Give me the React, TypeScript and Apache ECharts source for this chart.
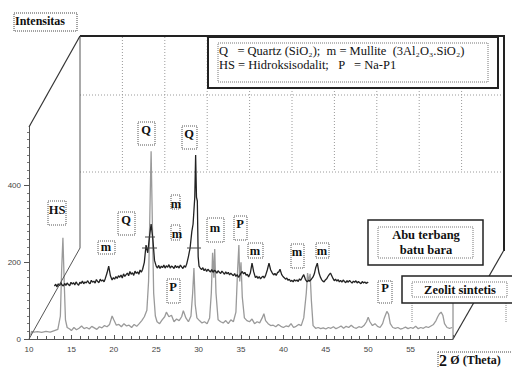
import React, { useEffect, useRef } from "react";
import * as echarts from "echarts";

// Zeolit sintetis (grey trace)
const zeolitTheta = [
  10.2, 10.3, 10.6, 11.0, 11.5, 12.0, 12.5, 13.0, 13.4, 13.7, 13.85, 14.0, 14.15, 14.3, 14.5, 14.8,
  15.0, 15.3, 15.6, 15.9, 16.2, 16.5, 16.8, 17.1, 17.4, 17.7, 18.0, 18.3, 18.6, 18.9, 19.2, 19.5,
  19.8, 20.0, 20.3, 20.6, 20.9, 21.2, 21.5, 21.8, 22.1, 22.4, 22.7, 23.0, 23.3, 23.6, 23.9, 24.1,
  24.3, 24.4, 24.55, 24.7, 24.9, 25.1, 25.4, 25.7, 26.0, 26.2, 26.5, 26.8, 27.1, 27.4, 27.7, 28.0,
  28.2, 28.5, 28.8, 29.1, 29.3, 29.45, 29.6, 29.8, 30.1, 30.4, 30.7, 31.0, 31.3, 31.5, 31.65, 31.8,
  31.9, 32.05, 32.3, 32.6, 32.9, 33.2, 33.5, 33.8, 34.1, 34.4, 34.6, 34.75, 34.85, 35.0, 35.15, 35.4,
  35.7, 36.0, 36.3, 36.6, 36.9, 37.2, 37.5, 37.7, 37.9, 38.2, 38.5, 38.8, 39.1, 39.4, 39.7, 40.0,
  40.3, 40.6, 40.9, 41.2, 41.5, 41.8, 42.1, 42.4, 42.7, 42.85, 43.0, 43.15, 43.3, 43.5, 43.8, 44.1,
  44.4, 44.7, 45.0, 45.3, 45.6, 45.9, 46.2, 46.5, 46.8, 47.1, 47.4, 47.7, 48.0, 48.3, 48.6, 48.9,
  49.2, 49.5, 49.8, 50.0, 50.2, 50.5, 50.8, 51.1, 51.4, 51.7, 51.9, 52.2, 52.4, 52.6, 52.9, 53.2,
  53.5, 53.8, 54.1, 54.4, 54.7, 55.0, 55.3, 55.6, 55.9, 56.2, 56.5, 56.8, 57.1, 57.4, 57.7, 58.0,
  58.2, 58.4, 58.6, 58.8, 59.0, 59.3, 59.6, 59.9,
];
const zeolitIntensity = [
  10, 20, 18, 19, 17, 20, 18, 22, 25, 60, 180, 264, 150, 50, 30, 26,
  22, 30, 24, 28, 34, 27, 30, 26, 33, 29, 25, 32, 29, 35, 32, 38,
  60, 50, 36, 38, 32, 40, 34, 36, 30, 38, 33, 40, 48, 58, 75, 150,
  380, 490, 300, 120, 60, 45, 40, 50, 58, 70, 58, 62, 45, 52, 48, 58,
  74, 55, 45, 60, 120, 185, 90, 55, 48, 42, 45, 40, 55, 120, 225, 160,
  235, 120, 50, 45, 42, 48, 40, 50, 45, 70, 180, 245, 150, 200, 110, 55,
  48, 45, 52, 40, 45, 42, 55, 66, 48, 40, 35, 36, 32, 38, 33, 30,
  34, 32, 40, 30, 33, 38, 35, 55, 120, 172, 150, 170, 100, 35, 28, 30,
  27, 29, 26, 30, 28, 32, 27, 30, 34, 28, 33, 30, 36, 30, 28, 32,
  30, 35, 45, 57, 45, 35, 40, 33, 30, 40, 55, 72, 65, 40, 30, 28,
  30, 26, 28, 31, 27, 30, 28, 33, 27, 30, 28, 32, 30, 34, 38, 48,
  58, 66, 70, 62, 40, 30, 28, 30,
];

// Abu terbang batu bara (dark trace)
const abuTheta = [
  13.0, 13.15, 13.3, 13.45, 13.6, 13.75, 13.9, 14.05, 14.2, 14.35, 14.5, 14.65, 14.8, 14.95, 15.1, 15.25,
  15.4, 15.55, 15.7, 15.85, 16.0, 16.15, 16.3, 16.45, 16.6, 16.75, 16.9, 17.05, 17.2, 17.35, 17.5, 17.65,
  17.8, 17.95, 18.1, 18.25, 18.4, 18.55, 18.7, 18.85, 19.0, 19.2, 19.4, 19.6, 19.8, 19.95, 20.1, 20.25,
  20.4, 20.55, 20.7, 20.85, 21.0, 21.15, 21.3, 21.45, 21.6, 21.75, 21.9, 22.05, 22.2, 22.35, 22.5, 22.65,
  22.8, 22.95, 23.1, 23.25, 23.4, 23.6, 23.8, 24.0, 24.2, 24.4, 24.6, 24.8, 25.0, 25.15, 25.3, 25.45,
  25.6, 25.75, 25.9, 26.05, 26.2, 26.35, 26.5, 26.65, 26.8, 26.95, 27.1, 27.25, 27.4, 27.55, 27.7, 27.85,
  28.0, 28.15, 28.3, 28.45, 28.6, 28.8, 29.0, 29.2, 29.35, 29.45, 29.55, 29.65, 29.75, 29.85, 29.95, 30.05,
  30.2, 30.35, 30.5, 30.65, 30.8, 30.95, 31.1, 31.25, 31.4, 31.55, 31.7, 31.85, 32.0, 32.15, 32.3, 32.45,
  32.6, 32.75, 32.9, 33.05, 33.2, 33.35, 33.5, 33.65, 33.8, 33.95, 34.1, 34.25, 34.4, 34.55, 34.7, 34.85,
  35.0, 35.15, 35.3, 35.45, 35.6, 35.75, 35.9, 36.1, 36.3, 36.5, 36.7, 36.85, 37.0, 37.15, 37.3, 37.45,
  37.6, 37.75, 37.9, 38.1, 38.3, 38.5, 38.7, 38.85, 39.0, 39.15, 39.3, 39.45, 39.6, 39.8, 39.95, 40.1,
  40.25, 40.4, 40.55, 40.7, 40.85, 41.0, 41.15, 41.3, 41.45, 41.6, 41.75, 41.9, 42.05, 42.2, 42.4, 42.6,
  42.8, 42.95, 43.1, 43.3, 43.5, 43.65, 43.8, 44.0, 44.2, 44.35, 44.5, 44.65, 44.8, 44.95, 45.1, 45.25,
  45.4, 45.55, 45.7, 45.85, 46.0, 46.15, 46.3, 46.45, 46.6, 46.75, 46.9, 47.05, 47.2, 47.35, 47.5, 47.65,
  47.8, 47.95, 48.1, 48.25, 48.4, 48.55, 48.7, 48.85, 49.0, 49.15, 49.3, 49.45, 49.6, 49.75, 49.9, 50.0,
];
const abuIntensity = [
  138, 143, 136, 144, 139, 147, 141, 138, 145, 140, 146, 142, 139, 148, 143, 147,
  141, 149, 144, 140, 148, 145, 151, 144, 149, 146, 152, 147, 144, 153, 148, 151,
  146, 155, 150, 147, 156, 151, 154, 149, 158, 172, 190, 165, 154, 160, 156, 163,
  158, 165, 161, 167, 159, 170, 163, 168, 172, 165, 176, 169, 173, 166, 177, 171,
  175, 169, 180, 174, 182, 200, 245, 225, 265, 300, 262, 205, 190, 185, 192, 184,
  190, 186, 193, 185, 191, 187, 194, 185, 190, 188, 184, 192, 186, 190, 185, 193,
  188, 184, 191, 187, 196, 215, 238, 280, 300, 335, 370, 480, 370, 360, 215, 190,
  185, 181, 186, 178, 183, 176, 182, 178, 175, 181, 174, 179, 177, 172, 178, 174,
  171, 177, 173, 169, 175, 170, 174, 167, 172, 168, 165, 171, 163, 168, 161, 166,
  172, 176, 170, 174, 166, 169, 162, 172, 198, 175, 160, 164, 158, 163, 157, 161,
  164, 159, 166, 180, 198, 180, 172, 167, 171, 166, 173, 175, 182, 168, 163, 160,
  156, 159, 153, 156, 150, 153, 149, 155, 151, 154, 150, 157, 153, 160, 168, 155,
  149, 153, 151, 156, 162, 170, 185, 198, 172, 162, 155, 151, 149, 154, 157, 163,
  168, 172, 165, 158, 152, 156, 151, 155, 149, 153, 148, 154, 150, 147, 152, 148,
  153, 149, 146, 151, 148, 152, 146, 150, 147, 144, 150, 146, 149, 145, 148, 146,
];

const xTickLabels = [10, 15, 20, 25, 30, 35, 40, 45, 50, 55];
const yTickLabels = [0, 200, 400];

const serif = "Liberation Serif";
const sans = "Liberation Sans";

type Lbl = { t: string; bx: number; by: number; bw: number; bh: number; tx: number; ty: number };
const peakLabels: Lbl[] = [
  { t: "HS", bx: 48, by: 201, bw: 18, bh: 24, tx: 57, ty: 210 },
  { t: "Q", bx: 118, by: 212, bw: 17, bh: 23, tx: 126, ty: 220 },
  { t: "Q", bx: 138, by: 122, bw: 17, bh: 23, tx: 146, ty: 130 },
  { t: "Q", bx: 182, by: 126, bw: 15, bh: 23, tx: 189, ty: 134 },
  { t: "m", bx: 98, by: 241, bw: 17, bh: 13, tx: 106, ty: 247 },
  { t: "m", bx: 171, by: 195, bw: 9, bh: 14, tx: 176, ty: 204 },
  { t: "m", bx: 171, by: 225, bw: 9, bh: 15, tx: 177, ty: 234 },
  { t: "m", bx: 207, by: 218, bw: 17, bh: 24, tx: 215, ty: 228 },
  { t: "P", bx: 234, by: 216, bw: 13, bh: 24, tx: 240, ty: 224 },
  { t: "m", bx: 248, by: 243, bw: 15, bh: 15, tx: 255, ty: 251 },
  { t: "m", bx: 291, by: 244, bw: 13, bh: 24, tx: 297, ty: 252 },
  { t: "m", bx: 316, by: 243, bw: 13, bh: 15, tx: 322, ty: 251 },
  { t: "P", bx: 167, by: 279, bw: 13, bh: 24, tx: 173, ty: 287 },
  { t: "P", bx: 378, by: 281, bw: 14, bh: 22, tx: 385, ty: 288 },
];

function line(x1: number, y1: number, x2: number, y2: number, stroke = "#222", lineWidth = 1, dash?: number[], z = 5) {
  return {
    type: "line",
    z,
    shape: { x1, y1, x2, y2 },
    style: { stroke, lineWidth, lineDash: dash },
    silent: true,
  };
}

function rect(x: number, y: number, width: number, height: number, stroke: string, lineWidth: number, fill: string, dash?: number[], z = 20) {
  return {
    type: "rect",
    z,
    shape: { x, y, width, height },
    style: { stroke, lineWidth, fill, lineDash: dash },
    silent: true,
  };
}

function text(x: number, y: number, t: string, size: number, bold: boolean, align = "center", z = 30, fill = "#111") {
  return {
    type: "text",
    z,
    x,
    y,
    style: {
      text: t,
      fontFamily: serif,
      fontSize: size,
      fontWeight: bold ? "bold" : "normal",
      fill,
      align,
      verticalAlign: "middle",
    },
    silent: true,
  };
}

function buildGraphics() {
  const g: any[] = [];
  const dot = [1, 2];
  // dotted grid of the back plane
  for (let k = 1; k <= 9; k++) {
    const x = 80 + k * 42.4;
    g.push(line(x, 37, x, 172, "#9a9a9a", 1, dot, 1));
  }
  g.push(line(80, 95, 504, 95, "#9a9a9a", 1, dot, 1));
  g.push(line(80, 172, 504, 172, "#9a9a9a", 1, dot, 1));
  // 3D frame
  g.push(line(80, 36, 505, 36, "#222", 2));
  g.push(line(504, 36, 504, 251, "#222", 2));
  g.push(line(80, 36, 80, 248, "#555", 1));
  g.push(line(80, 36, 29, 127, "#333", 1.2));
  g.push(line(80, 248, 29, 339, "#555", 1));
  g.push(line(504, 250, 453, 339, "#333", 1.2));
  g.push(line(453, 303, 453, 339, "#777", 1));
  // FWHM markers
  g.push(line(142, 248, 157, 248, "#444", 1));
  g.push(line(145, 237, 155, 237, "#444", 1));
  g.push(line(187, 248, 201, 248, "#444", 1));
  // Intensitas
  g.push(rect(14, 13, 63, 18, "#444", 1, "rgba(0,0,0,0)", [1, 1]));
  g.push(text(15, 21, "Intensitas", 12, true, "left"));
  // 2 Ø (Theta)
  g.push(line(438, 352, 512, 352, "#444", 1, [1, 1]));
  g.push(line(438, 352, 438, 367, "#444", 1, [1, 1]));
  g.push({
    type: "text",
    z: 30,
    x: 439,
    y: 360,
    style: {
      text: "{a|2} {b|Ø (Theta)}",
      verticalAlign: "middle",
      align: "left",
      rich: {
        a: { fontFamily: serif, fontSize: 16, fontWeight: "bold", fill: "#111" },
        b: { fontFamily: serif, fontSize: 12, fontWeight: "bold", fill: "#111" },
      },
    },
    silent: true,
  });
  // legend box
  g.push(rect(208, 37, 290, 51, "#222", 2, "#fff"));
  g.push(rect(218, 43, 270, 39, "#777", 1, "rgba(0,0,0,0)", [1, 1], 21));
  g.push(text(219, 51, "Q   = Quartz (SiO₂);  m = Mullite  (3Al₂O₃.SiO₂)", 12.5, false, "left"));
  g.push(text(219, 65, "HS = Hidroksisodalit;   P   = Na-P1", 12.5, false, "left"));
  // Abu terbang box
  g.push(rect(368, 220, 115, 45, "#222", 1.5, "#fff"));
  g.push(rect(378, 227, 95, 31, "#777", 1, "rgba(0,0,0,0)", [1, 1], 21));
  g.push(text(426, 235, "Abu terbang", 12.5, true));
  g.push(text(426, 250, "batu bara", 12.5, true));
  // Zeolit box
  g.push(rect(402, 276, 120, 27, "#222", 1.5, "#fff"));
  g.push(rect(412, 282, 95, 15, "#777", 1, "rgba(0,0,0,0)", [1, 1], 21));
  g.push(text(460, 290, "Zeolit sintetis", 12.5, true));
  g.push(line(412, 297, 412, 322, "#888", 1, [1, 1]));
  g.push(line(506, 297, 506, 322, "#888", 1, [1, 1]));
  // peak labels
  for (const l of peakLabels) {
    g.push(rect(l.bx, l.by, l.bw, l.bh, "#555", 1, "rgba(0,0,0,0)", [1, 1], 20));
    g.push(text(l.tx, l.ty, l.t, 12.5, true));
  }
  return g;
}

export default function App() {
  const ref = useRef<HTMLDivElement>(null);
  useEffect(() => {
    if (!ref.current) return;
    const chart = echarts.init(ref.current, null, { renderer: "svg" });
    const zeolitData = zeolitTheta.map((t, i) => [t, zeolitIntensity[i]]);
    const abuData = abuTheta.map((t, i) => [t, abuIntensity[i]]);
    chart.setOption({
      animation: false,
      backgroundColor: "#fff",
      grid: { left: 29, right: 59, top: 127, bottom: 28, containLabel: false },
      xAxis: {
        type: "value",
        min: 10,
        max: 60,
        interval: 5,
        axisLine: { show: true, lineStyle: { color: "#555", width: 1 } },
        axisTick: { show: true, inside: true, length: 4, lineStyle: { color: "#555" } },
        minorTick: { show: true, splitNumber: 5, length: 3, lineStyle: { color: "#555" } },
        splitLine: { show: false },
        axisLabel: {
          customValues: xTickLabels,
          fontSize: 8,
          fontFamily: sans,
          color: "#444",
          margin: 6,
        },
      },
      yAxis: {
        type: "value",
        min: 0,
        max: 553,
        interval: 200,
        axisLine: { show: true, lineStyle: { color: "#555", width: 1 } },
        axisTick: { show: true, customValues: yTickLabels, length: 5, lineStyle: { color: "#555" } },
        minorTick: { show: true, splitNumber: 10, length: 2, lineStyle: { color: "#777" } },
        splitLine: { show: false },
        axisLabel: {
          customValues: yTickLabels,
          fontSize: 8,
          fontFamily: sans,
          color: "#444",
          margin: 8,
        },
      },
      series: [
        {
          name: "Zeolit sintetis",
          type: "line",
          data: zeolitData,
          showSymbol: false,
          symbol: "none",
          lineStyle: { color: "#9a9a9a", width: 1.3 },
          z: 3,
        },
        {
          name: "Abu terbang batu bara",
          type: "line",
          data: abuData,
          showSymbol: false,
          symbol: "none",
          lineStyle: { color: "#222", width: 1.3 },
          z: 4,
        },
      ],
      graphic: buildGraphics(),
    });
    return () => chart.dispose();
  }, []);
  return (
    <div
      ref={ref}
      style={{ position: "fixed", left: 0, top: 0, width: 512, height: 367, background: "#fff" }}
    />
  );
}
